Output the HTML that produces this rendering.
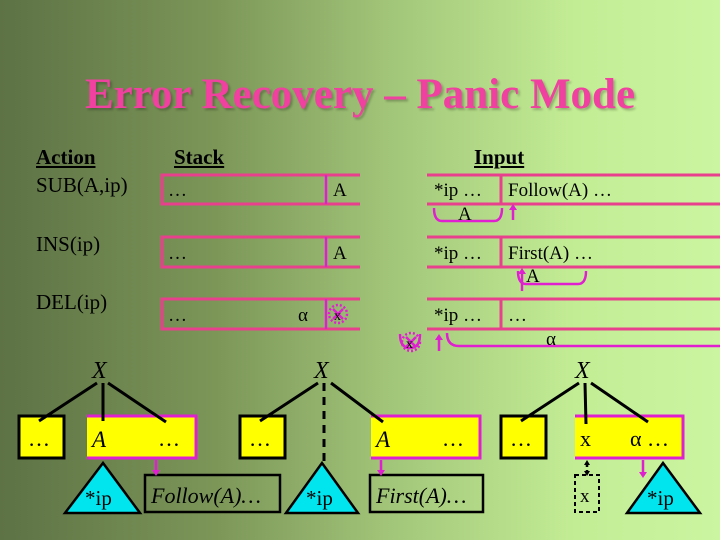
<!DOCTYPE html>
<html><head><style>
body{margin:0}
#c{position:relative;width:720px;height:540px;overflow:hidden;background:linear-gradient(90deg,#5d7245 0%,#7c9658 30%,#a3c77a 55%,#c3ed95 80%,#cbf5a0 100%);font-family:"Liberation Serif",serif;color:#000}
.t{position:absolute;white-space:nowrap}
</style></head><body><div id="c">
<div class="t" style="left:0;width:720px;text-align:center;top:70px;font-size:43px;font-weight:bold;color:#f040a0;text-shadow:2px 2px 2px rgba(0,0,0,0.25)">Error Recovery – Panic Mode</div>
<div class="t" style="left:36px;top:145px;font-size:21px;font-weight:bold;text-decoration:underline">Action</div>
<div class="t" style="left:174px;top:145px;font-size:21px;font-weight:bold;text-decoration:underline">Stack</div>
<div class="t" style="left:474px;top:145px;font-size:21px;font-weight:bold;text-decoration:underline">Input</div>
<div class="t" style="left:36px;top:173px;font-size:21px">SUB(A,ip)</div>
<div class="t" style="left:36px;top:232px;font-size:21px">INS(ip)</div>
<div class="t" style="left:36px;top:290px;font-size:21px">DEL(ip)</div>
<svg width="720" height="540" style="position:absolute;left:0;top:0" font-family="Liberation Serif,serif" font-size="19">
<g stroke="#e8408c" stroke-width="3" fill="none">
<path d="M360 175H162V204H360"/><path d="M360 237H162V267H360"/><path d="M360 299H162V329H360"/>
<path d="M427 175H720M427 204H720M427 237H720M427 267H720M427 299H720M427 329H720"/>
<path d="M501 175V204M501 237V267M501 299V329"/>
</g>
<g stroke="#e020d0" stroke-width="2.5" fill="none">
<path d="M326 175V204M326 237V267M326 299V329"/>
<path d="M434 208q0 13 8 13h52q8 0 8-13"/>
<path d="M518 271q0 13 8 13h52q8 0 8-13"/>
<path d="M447 333q0 13 12 13h261"/>
<path d="M400 334q0 14 10 14t10-14"/>
<circle cx="338" cy="314" r="9" stroke-dasharray="2 2"/><path d="M333 309l10 10M343 309l-10 10"/>
<circle cx="411" cy="342" r="9" stroke-dasharray="2 2"/><path d="M406 337l10 10M416 337l-10 10"/>
<path d="M513 220V208M522 291V272M439 351V338"/>
</g>
<g fill="#e020d0"><path d="M509 210l4-6 4 6z"/><path d="M518 274l4-6 4 6z"/><path d="M435 340l4-6 4 6z"/></g>
<text x="168" y="196">…</text><text x="333" y="196">A</text>
<text x="168" y="259">…</text><text x="333" y="259">A</text>
<text x="168" y="321">…</text><text x="298" y="321">α</text><text x="334" y="320" font-size="14">x</text>
<text x="434" y="196">*ip …</text><text x="508" y="196">Follow(A) …</text><text x="458" y="220">A</text>
<text x="434" y="259">*ip …</text><text x="508" y="259">First(A) …</text><text x="526" y="282">A</text>
<text x="434" y="321">*ip …</text><text x="508" y="321">…</text><text x="546" y="345">α</text><text x="406" y="348" font-size="14">x</text>
<!-- trees -->
<g font-style="italic" font-size="24"><text x="92" y="378">X</text><text x="314" y="378">X</text><text x="575" y="378">X</text></g>
<g stroke="#000" stroke-width="3" fill="#ffff00">
<rect x="19" y="416" width="45" height="42"/><rect x="240" y="416" width="45" height="42"/><rect x="501" y="416" width="45" height="42"/>
</g>
<g fill="#ffff00" stroke="#e020d0" stroke-width="3">
<path d="M87 416H196V458H87"/><path d="M371 416H480V458H371"/><path d="M575 416H683V458H575"/>
</g>
<g fill="#ffff00"><rect x="87" y="418" width="107" height="38"/><rect x="371" y="418" width="107" height="38"/><rect x="575" y="418" width="106" height="38"/></g>
<g stroke="#000" stroke-width="3" fill="none">
<path d="M97 383L39 421M103 383V421M108 383L166 422"/>
<path d="M318 383L260 421M331 383L383 422"/>
<path d="M324 383V462" stroke-dasharray="8 6"/>
<path d="M579 383L521 421M585 383L586 424M591 383L648 422"/>
</g>
<g fill="#00e5ee" stroke="#000" stroke-width="2.5">
<path d="M103 463L65 513H140z"/><path d="M322 463L286 513H358z"/><path d="M663 463L627 513H700z"/>
</g>
<g fill="none" stroke="#000" stroke-width="2.5">
<rect x="145" y="475" width="135" height="37"/><rect x="370" y="475" width="113" height="37"/>
<rect x="575" y="475" width="24" height="37" stroke-dasharray="4 3" stroke-width="2"/>
<path d="M587 464V473" stroke-dasharray="3 3"/>
</g>
<g stroke="#e020d0" stroke-width="2.5"><path d="M156 460V472M381 460V472M643 460V474"/></g>
<g fill="#e020d0"><path d="M152 470l4 6 4-6z"/><path d="M377 470l4 6 4-6z"/><path d="M639 472l4 6 4-6z"/></g>
<path d="M584 465l3-5 3 5zM584 471l3 5 3-5z" fill="#000"/>
<g font-size="22"><text x="28" y="446">…</text><text x="249" y="446">…</text><text x="510" y="446">…</text>
<text x="158" y="446">…</text><text x="442" y="446">…</text><text x="630" y="446">α …</text><text x="580" y="446">x</text>
<text x="580" y="502" font-size="19">x</text>
<text x="85" y="505" font-size="21">*ip</text><text x="306" y="505" font-size="21">*ip</text><text x="647" y="505" font-size="21">*ip</text></g>
<g font-style="italic" font-size="23"><text x="92" y="447">A</text><text x="376" y="447">A</text>
<text x="151" y="503" font-size="22">Follow(A)…</text><text x="376" y="503" font-size="22">First(A)…</text></g>
</svg>
</div></body></html>
